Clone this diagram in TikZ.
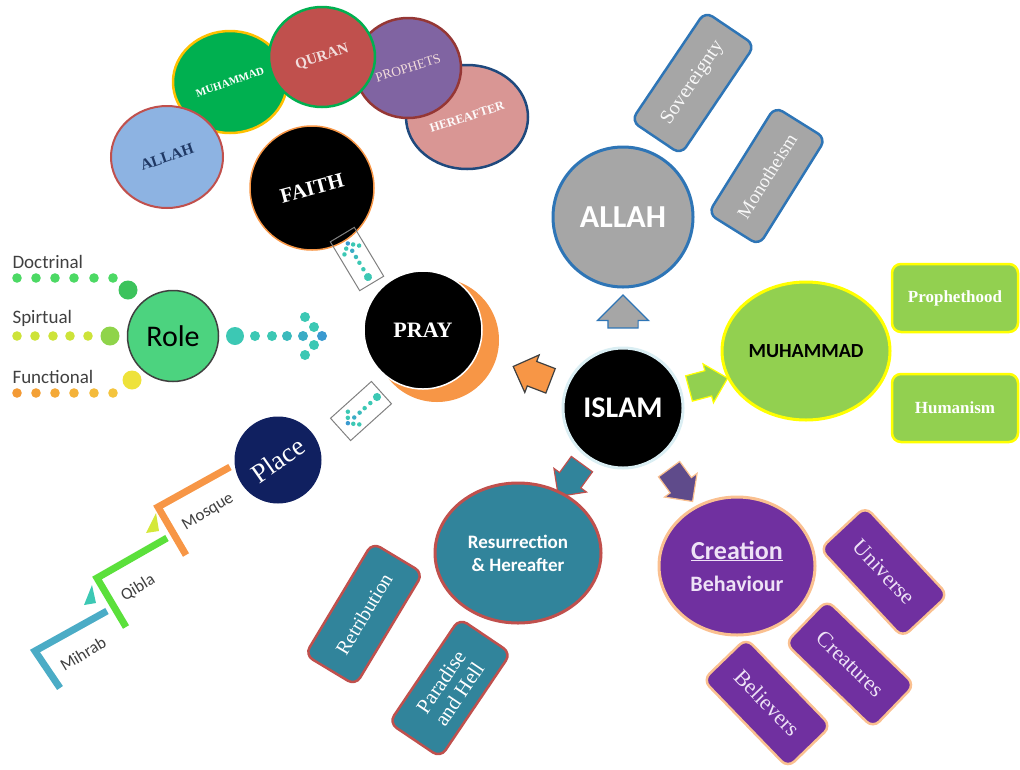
\documentclass[tikz,border=0pt]{standalone}
\usepackage{fontspec}
\setmainfont{Liberation Serif}
\setsansfont{Carlito}
\usetikzlibrary{shapes.geometric,shapes.arrows}

\definecolor{allahgray}{HTML}{A6A6A6}
\definecolor{allahblue}{HTML}{2E75B6}
\definecolor{prophetgreen}{HTML}{92D050}
\definecolor{prophetrim}{HTML}{FFFF00}
\definecolor{hereafterteal}{HTML}{31849B}
\definecolor{hereafterrim}{HTML}{C0504D}
\definecolor{creationpurple}{HTML}{7030A0}
\definecolor{creationrim}{HTML}{FAC090}
\definecolor{creationtext}{HTML}{EEE2F6}
\definecolor{creationarrow}{HTML}{5F4B8B}
\definecolor{prayorange}{HTML}{F79646}
\definecolor{islamrim}{HTML}{DAEEF3}
\definecolor{rolegreen}{HTML}{4CD37F}
\definecolor{placenavy}{HTML}{102060}
\definecolor{faithblue}{HTML}{8DB3E2}
\definecolor{faithnavy}{HTML}{1F3864}
\definecolor{faithgreen}{HTML}{00B050}
\definecolor{faithgold}{HTML}{FFC000}
\definecolor{faithred}{HTML}{C0504D}
\definecolor{faithpurple}{HTML}{8064A2}
\definecolor{faithmaroon}{HTML}{953735}
\definecolor{faithpink}{HTML}{D99694}
\definecolor{faithdarkblue}{HTML}{1F497D}
\definecolor{lightpink}{HTML}{F2DCDB}
\definecolor{labelgray}{HTML}{404040}
\definecolor{dotteal}{HTML}{3CC8B4}
\definecolor{dotblue}{HTML}{3A9AD0}
\definecolor{dotgreen}{HTML}{4CD964}
\definecolor{dotgreenbig}{HTML}{3CC35C}
\definecolor{spiritlime}{HTML}{CDE339}
\definecolor{spiritbig}{HTML}{8FD44A}
\definecolor{funcorange}{HTML}{F39A35}
\definecolor{funcyellow}{HTML}{F5D640}
\definecolor{funcbig}{HTML}{EEE23A}
\definecolor{mosqueorange}{HTML}{F79646}
\definecolor{qiblagreen}{HTML}{5BE03B}
\definecolor{mihrabblue}{HTML}{4BACC6}
\definecolor{steplime}{HTML}{D4E83A}

% dotted pointer: start, angle, scale
\newcommand{\dotpointer}[3]{%
\begin{scope}[shift={#1},rotate=#2,scale=#3]
\fill[dotteal] (0,0) circle (9);
\foreach \x/\c in {20/dotteal,37/dotteal,52/dotteal!70!dotblue,68/dotblue!60!dotteal}
  \fill[\c] (\x,0) circle (5);
\fill[dotblue] (87,0) circle (5);
\fill[dotteal] (70,-19) circle (5) (79,-9) circle (5) (79,9) circle (5) (70,19) circle (5);
\end{scope}}

\begin{document}
\begin{tikzpicture}
[
x=1pt, y=-1pt,
map core/.style={circle,draw,inner sep=0pt,line width=2.5pt},
map ellipse/.style={ellipse,draw,inner sep=0pt,line width=2.5pt},
map card/.style={rectangle,rounded corners=9pt,draw,inner sep=0pt,line width=2.5pt,align=center},
map frame/.style={rectangle,draw=gray,line width=1pt,inner sep=0pt},
map pointer/.style={single arrow,draw,line width=1.2pt,inner xsep=0pt,inner ysep=12.5pt,single arrow head indent=0pt,
  minimum height=40pt,single arrow head extend=7pt},
map sans/.style={font=\sffamily\bfseries\fontsize{#1}{#1}\selectfont},
map serif/.style={font=\rmfamily\bfseries\fontsize{#1}{#1}\selectfont},
map roman/.style={font=\rmfamily\fontsize{#1}{#1}\selectfont},
map label/.style={font=\sffamily\fontsize{19}{19}\selectfont,text=labelgray},
map steptext/.style={font=\sffamily\fontsize{17}{17}\selectfont,text=labelgray},
map bracket/.style={line width=7pt,line join=miter}
]
\useasboundingbox (0,0) rectangle (1020,769);

% faith circles
\node[map ellipse, fill=faithpink, draw=faithdarkblue, minimum width=122pt, minimum height=104pt, text=white!95!faithpink, map serif=12.5] (hereaftertop) at (467,117) {\rotatebox{18}{HEREAFTER}};
\node[map ellipse, fill=faithpurple, draw=faithmaroon, minimum width=106pt, minimum height=100pt, text=lightpink, map roman=13.5] (prophetstop) at (408,68) {\rotatebox{17}{PROPHETS}};
\node[map ellipse, fill=faithgreen, draw=faithgold, minimum width=114pt, minimum height=102pt, text=white, map serif=11] (muhammadtop) at (230,82) {\rotatebox{19}{MUHAMMAD}};
\node[map ellipse, fill=faithred, draw=faithgreen, minimum width=106pt, minimum height=100pt, text=lightpink, map serif=15] (qurantop) at (322,57) {\rotatebox{18}{QURAN}};
\node[map ellipse, fill=faithblue, draw=faithred, line width=2pt, minimum width=112pt, minimum height=102pt, text=faithnavy, map serif=15.5] (allahtop) at (167,157) {\rotatebox{19}{ALLAH}};

\node[map core, fill=black, draw=prayorange, line width=1.5pt, minimum size=124pt, text=white, map serif=21] (faith) at (312,188) {\rotatebox{15}{FAITH}};

% pray
\node[circle, fill=prayorange, minimum size=124pt, inner sep=0pt] (praymoon) at (437,340) {};
\node[map core, fill=black, draw=white, line width=1.5pt, minimum size=118pt, text=white, map serif=22] (pray) at (423,330) {PRAY};

% dotted links
\node[map frame, rotate=121, minimum width=57pt, minimum height=28pt] (faithlink) at (357,259) {};
\dotpointer{(368,277)}{121}{0.45}
\node[map frame, rotate=42, minimum width=55pt, minimum height=30pt] (placelink) at (361,411) {};
\dotpointer{(377,397)}{222}{0.45}

% role
\node[map core, fill=rolegreen, draw=labelgray, line width=1.5pt, minimum size=91pt, font=\sffamily\fontsize{30}{30}\selectfont] (role) at (173,336) {Role};
\dotpointer{(235,336)}{0}{1}

\node[map label, anchor=west] (doctrinal) at (9,262) {Doctrinal};
\node[map label, anchor=west] (spirtual) at (9,318) {Spirtual};
\node[map label, anchor=west] (functional) at (9,377) {Functional};

\foreach \x in {17,36,55,74,94,113} \fill[dotgreen] (\x,278) circle (4.8);
\fill[dotgreenbig] (128,290) circle (9.5);
\foreach \x in {17,35,53,70,88} \fill[spiritlime] (\x,336) circle (4.8);
\fill[spiritbig] (110,336) circle (9.5);
\foreach \x/\m in {17/100,36/90,55/75,74/60,94/45,113/30} \fill[funcorange!\m!funcyellow] (\x,393) circle (4.8);
\fill[funcbig] (132,380) circle (9.5);

% place
\node[circle, fill=placenavy, inner sep=0pt, minimum size=87pt, text=white, map roman=27] (place) at (278,460) {\rotatebox{35}{Place}};

\draw[map bracket, mosqueorange] (230,467) -- (158,507) -- (186,555);
\draw[map bracket, qiblagreen] (167,538) -- (97,578) -- (126,627);
\draw[map bracket, mihrabblue] (107,611) -- (35,651) -- (60,688);
\fill[steplime] (156,513) -- (146,533) -- (159,531) -- cycle;
\fill[dotteal] (92,585) -- (84,605) -- (96,603) -- cycle;
\node[map steptext, rotate=31] (mosque) at (208,512) {Mosque};
\node[map steptext, rotate=31] (qibla) at (138,588) {Qibla};
\node[map steptext, rotate=31] (mihrab) at (83,654) {Mihrab};

% islam
\node[map core, fill=black, draw=islamrim, line width=3pt, minimum size=120pt, text=white, map sans=30] (islam) at (623,408) {ISLAM};

% allah
\node[map core, fill=allahgray, draw=allahblue, line width=3pt, minimum size=140pt, text=white, map sans=32] (allah) at (623,217) {ALLAH};
\node[map pointer, rotate=90, fill=allahgray, draw=allahblue, minimum height=33pt, inner ysep=14.5pt, single arrow head extend=10.5pt] (allaharrow) at (623,319) {};
\node[map card, rotate=56, fill=allahgray, draw=allahblue, minimum width=132pt, minimum height=60pt, text=white!92!allahgray, map roman=20] (sovereignty) at (693,83) {Sovereignty};
\node[map card, rotate=58, fill=allahgray, draw=allahblue, minimum width=126pt, minimum height=60pt, text=white!92!allahgray, map roman=19] (monotheism) at (767,176) {Monotheism};

% muhammad
\node[map ellipse, fill=prophetgreen, draw=prophetrim, line width=3pt, minimum width=168pt, minimum height=138pt, text=black, map sans=20] (muhammad) at (806,351) {MUHAMMAD};
\node[map pointer, rotate=15, fill=prophetgreen, draw=prophetrim] (muhammadarrow) at (702,385) {};
\node[map card, fill=prophetgreen, draw=prophetrim, minimum width=126pt, minimum height=68pt, text=white, map serif=17] (prophethood) at (955,298) {Prophethood};
\node[map card, fill=prophetgreen, draw=prophetrim, minimum width=126pt, minimum height=68pt, text=white, map serif=17] (humanism) at (955,408) {Humanism};

% pray arrow
\node[map pointer, rotate=159, fill=prayorange, draw=labelgray] (prayarrow) at (538,376) {};

% resurrection
\node[map pointer, rotate=-126, fill=hereafterteal, draw=hereafterrim] (hereafterarrow) at (574,475) {};
\node[map ellipse, fill=hereafterteal, draw=hereafterrim, line width=3pt, minimum width=166pt, minimum height=140pt, text=white, align=center, font=\sffamily\bfseries\fontsize{19}{23}\selectfont] (resurrection) at (518,553) {Resurrection\\\& Hereafter};
\node[map card, rotate=59, fill=hereafterteal, draw=hereafterrim, minimum width=131pt, minimum height=59pt, text=white, map roman=20] (retribution) at (364,614) {Retribution};
\node[map card, rotate=56, fill=hereafterteal, draw=hereafterrim, minimum width=126pt, minimum height=62pt, text=white, font=\rmfamily\fontsize{21}{22}\selectfont] (paradise) at (450,688) {Paradise\\and Hell};

% creation
\node[map pointer, rotate=-54, fill=creationarrow, draw=creationrim] (creationarrow) at (677,480) {};
\node[map ellipse, fill=creationpurple, draw=creationrim, line width=3pt, minimum width=156pt, minimum height=138pt, text=creationtext, align=center, font=\sffamily\bfseries\fontsize{22}{24}\selectfont] (creation) at (737,566) {{\fontsize{26}{26}\selectfont\underline{Creation}}\\[8pt]Behaviour};
\node[map card, rotate=-47, fill=creationpurple, draw=creationrim, minimum width=121pt, minimum height=62pt, text=creationtext, map roman=22] (universe) at (884,572) {Universe};
\node[map card, rotate=-44, fill=creationpurple, draw=creationrim, minimum width=122pt, minimum height=60pt, text=creationtext, map roman=22] (creatures) at (850,664) {Creatures};
\node[map card, rotate=-46, fill=creationpurple, draw=creationrim, minimum width=122pt, minimum height=60pt, text=creationtext, map roman=22] (believers) at (767,703) {Believers};

\end{tikzpicture}
\end{document}
